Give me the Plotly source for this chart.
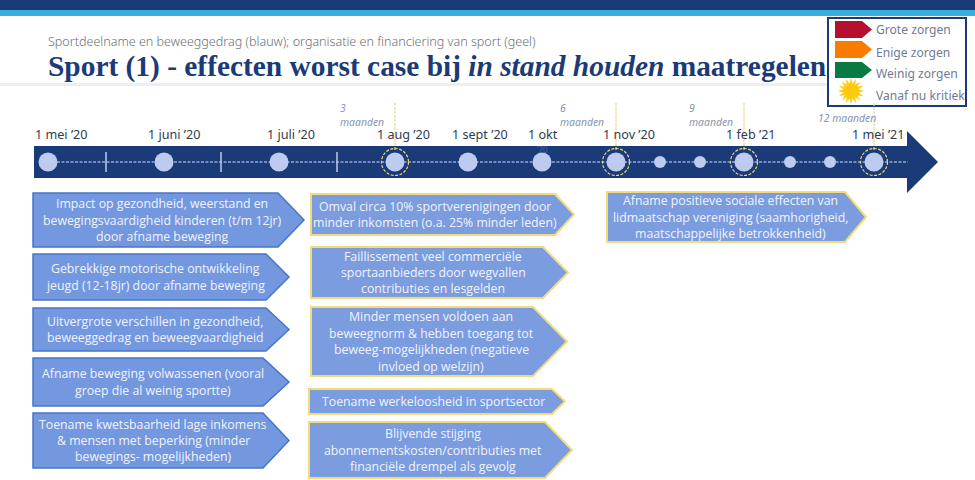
import math
import plotly.graph_objects as go

# ---- content ----
SUBTITLE = "Sportdeelname en beweeggedrag (blauw); organisatie en financiering van sport (geel)"
TITLE = "<b>Sport (1) - effecten worst case bij <i>in stand houden</i> maatregelen</b>"

date_labels = ["1 mei '20", "1 juni '20", "1 juli '20", "1 aug '20", "1 sept '20", "1 okt", "1 nov '20", "1 feb '21", "1 mei '21"]
date_label_x = [61, 174, 291, 403, 480, 543, 629, 751, 878]
big_dot_x = [48, 164, 279, 395, 468, 542, 616, 744, 874]
small_dot_x = [660, 700, 790, 830]
tick_x = [106, 221, 337]
milestone_x = [395, 616, 744, 874]
milestone_notes = [("3", 340, 108), ("maanden", 340, 122), ("6", 560, 108), ("maanden", 560, 122),
                   ("9", 689, 108), ("maanden", 689, 122), ("12 maanden", 818, 118)]

legend_labels = ["Grote zorgen", "Enige zorgen", "Weinig zorgen", "Vanaf nu kritiek"]
legend_colors = ["#b5112e", "#f97c00", "#0a7a45"]
legend_rows = [(21, 38), (41, 58), (62, 78)]
legend_text_y = [29, 52, 73, 95]

# (x0, y0, y1, shoulder, tip, text-centre, lines)
blue_boxes = [
    (33, 193, 247, 278, 304, 162, ["Impact op gezondheid, weerstand en", "bewegingsvaardigheid kinderen (t/m 12jr)", "door afname beweging"]),
    (33, 254, 300, 266, 289, 155, ["Gebrekkige motorische ontwikkeling", "jeugd (12-18jr) door afname beweging"]),
    (33, 308, 351, 266, 289, 155, ["Uitvergrote verschillen in gezondheid,", "beweeggedrag en beweegvaardigheid"]),
    (33, 358, 406, 263, 289, 153, ["Afname beweging volwassenen (vooral", "groep die al weinig sportte)"]),
    (33, 413, 468, 263, 289, 153, ["Toename kwetsbaarheid lage inkomens", "& mensen met beperking (minder", "bewegings- mogelijkheden)"]),
]
yellow_boxes = [
    (311, 194, 235, 555, 574, 435, ["Omval circa 10% sportverenigingen door", "minder inkomsten (o.a. 25% minder leden)"]),
    (311, 247, 298, 543, 568, 433, ["Faillissement veel commerciële", "sportaanbieders door wegvallen", "contributies en lesgelden"]),
    (311, 307, 376, 533, 567, 431, ["Minder mensen voldoen aan", "beweegnorm & hebben toegang tot", "beweeg-mogelijkheden (negatieve", "invloed op welzijn)"]),
    (309, 389, 414, 552, 565, 433, ["Toename werkeloosheid in sportsector"]),
    (309, 422, 478, 545, 572, 433, ["Blijvende stijging", "abonnementskosten/contributies met", "financiële drempel als gevolg"]),
    (607, 192, 242, 845, 866, 730, ["Afname positieve sociale effecten van", "lidmaatschap vereniging (saamhorigheid,", "maatschappelijke betrokkenheid)"]),
]

NAVY = "#1a3a78"
DOT = "#bccbef"
SANS = "Noto Sans, Open Sans, sans-serif"
BODY = "Open Sans, Noto Sans, sans-serif"

shapes, ann = [], []


def poly(pts, fill, line=None, width=0):
    path = "M " + " L ".join(f"{x},{y}" for x, y in pts) + " Z"
    shapes.append(dict(type="path", path=path, xref="x", yref="y", fillcolor=fill, layer="below",
                       line=dict(color=line or fill, width=width)))


def rect(x0, y0, x1, y1, fill, line=None, width=0):
    shapes.append(dict(type="rect", x0=x0, y0=y0, x1=x1, y1=y1, xref="x", yref="y", fillcolor=fill,
                       layer="below", line=dict(color=line or fill, width=width)))


def text(x, y, s, size, color, family=SANS, anchor="left", weight=None):
    f = dict(size=size, color=color, family=family)
    if weight:
        f["weight"] = weight
    ann.append(dict(x=x, y=y, xref="x", yref="y", text=s, showarrow=False, xanchor=anchor, yanchor="middle",
                    align=anchor, font=f, borderpad=0, borderwidth=0))


# header bands
rect(0, 0, 975, 10, NAVY)
rect(0, 10, 975, 16, "#38ade0")
rect(0, 83, 828, 86, "#eeeeee")
text(48, 41, SUBTITLE, 12.55, "#6b6f76", weight=300)
text(48, 66, TITLE, 29.4, "#1a3a78", "Liberation Serif, serif")

# timeline arrow
poly([(34, 146), (907, 146), (907, 131), (938, 162), (907, 193), (907, 178), (34, 178)], NAVY)

# milestone stems and rings
for x in milestone_x:
    shapes.append(dict(type="line", x0=x, x1=x, y0=103, y1=150, xref="x", yref="y", layer="above",
                       line=dict(color="#f3d772", width=1.2, dash="3px,1px")))
    shapes.append(dict(type="circle", x0=x - 13.5, x1=x + 13.5, y0=162 - 13.5, y1=162 + 13.5, xref="x", yref="y",
                       layer="above", line=dict(color="#f3d772", width=1.2, dash="3px,1.5px")))

for x in tick_x:
    shapes.append(dict(type="line", x0=x, x1=x, y0=152, y1=172, xref="x", yref="y", layer="above",
                       line=dict(color=DOT, width=1.5)))

for s, x, y in milestone_notes:
    text(x, y, f"<i>{s}</i>", 10.4, "#8a94ac")
for s, x in zip(date_labels, date_label_x):
    text(x, 134, s.replace("'", "’"), 12.6, "#2f3a52", anchor="center")
text(542, 149, "’20", 8, "#4e689f", anchor="center")

# legend box
rect(828, 18, 966, 106, "#ffffff", NAVY, 2)
for (y0, y1), c in zip(legend_rows, legend_colors):
    poly([(835, y0), (862, y0), (872, (y0 + y1) / 2), (862, y1), (835, y1)], c)
star = []
for i in range(32):
    r = 13.5 if i % 2 == 0 else 7.5
    a = math.pi * i / 16
    star.append((851 + r * math.cos(a), 91 + r * math.sin(a)))
poly(star, "#ffc90e")
for s, y in zip(legend_labels, legend_text_y):
    text(876, y, s, 12.1, "#6f7b96")


def draw(boxes, fill, border, width):
    for x0, y0, y1, sh, tip, cx, lines in boxes:
        poly([(x0, y0), (sh, y0), (tip, (y0 + y1) / 2), (sh, y1), (x0, y1)], fill, border, width)
        mid = (y0 + y1) / 2
        for i, line in enumerate(lines):
            text(cx, mid + (i - (len(lines) - 1) / 2) * 16.4, line, 12.3, "#f0f3fb", BODY, "center")


draw(blue_boxes, "#7398e0", "#4a74c8", 1.5)
draw(yellow_boxes, "#7c9ce0", "#f3da7a", 2)

fig = go.Figure()
# dashed centre line
fig.add_trace(go.Scatter(x=[big_dot_x[0], 908], y=[162, 162], mode="lines", hoverinfo="skip",
                         line=dict(color="#d5def5", width=1.2, dash="3px,1.5px")))
fig.add_trace(go.Scatter(x=big_dot_x, y=[162] * len(big_dot_x), mode="markers", hoverinfo="skip",
                         marker=dict(size=19, color=DOT)))
fig.add_trace(go.Scatter(x=small_dot_x, y=[162] * len(small_dot_x), mode="markers", hoverinfo="skip",
                         marker=dict(size=12, color=DOT)))

fig.update_layout(width=975, height=480, margin=dict(l=0, r=0, t=0, b=0), showlegend=False,
                  paper_bgcolor="#ffffff", plot_bgcolor="rgba(0,0,0,0)", shapes=shapes, annotations=ann,
                  xaxis=dict(range=[0, 975], visible=False, fixedrange=True),
                  yaxis=dict(range=[480, 0], visible=False, fixedrange=True))
fig.write_html("out.html", config={"displayModeBar": False},
               post_script="document.body.style.margin='0';document.documentElement.style.overflow='hidden';")
